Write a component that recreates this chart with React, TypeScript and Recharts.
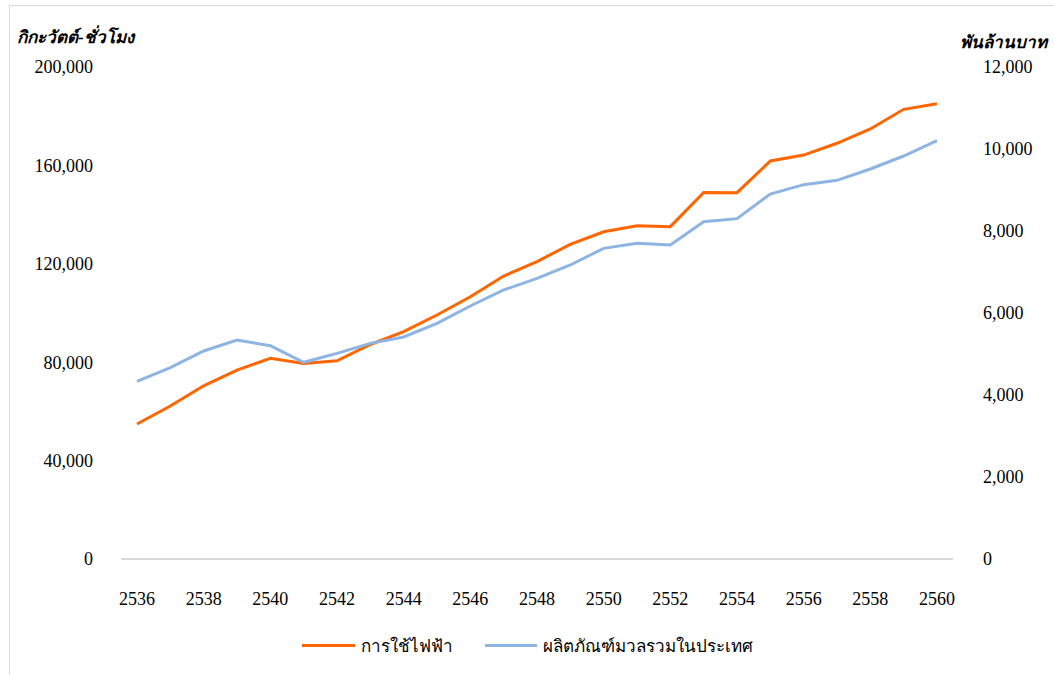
import React from "react";
import { LineChart, Line, XAxis, YAxis, Legend, ReferenceLine } from "recharts";

const years = [2536, 2537, 2538, 2539, 2540, 2541, 2542, 2543, 2544, 2545, 2546, 2547, 2548, 2549, 2550, 2551, 2552, 2553, 2554, 2555, 2556, 2557, 2558, 2559, 2560];
const electricity = [54900, 62200, 70400, 76800, 81600, 79500, 80600, 87200, 92400, 99200, 106600, 115000, 120900, 127900, 133000, 135500, 135100, 149000, 148900, 161800, 164200, 169000, 174800, 182800, 185100];
const gdp = [4330, 4667, 5073, 5341, 5203, 4797, 5016, 5260, 5415, 5748, 6171, 6561, 6846, 7171, 7577, 7700, 7658, 8227, 8301, 8902, 9130, 9236, 9512, 9829, 10203];
const xTicks = [2536, 2538, 2540, 2542, 2544, 2546, 2548, 2550, 2552, 2554, 2556, 2558, 2560];
const leftTicks = [0, 40000, 80000, 120000, 160000, 200000];
const rightTicks = [0, 2000, 4000, 6000, 8000, 10000, 12000];
const seriesNames = ["การใช้ไฟฟ้า", "ผลิตภัณฑ์มวลรวมในประเทศ"];
const leftTitle = "กิกะวัตต์-ชั่วโมง";
const rightTitle = "พันล้านบาท";

const data = years.map((y, i) => ({ year: y, elec: electricity[i], gdp: gdp[i] }));

const FONT = '"Liberation Serif", "Times New Roman", serif';
const ORANGE = "#FF6600";
const BLUE = "#8EB4E3";

const fmt = (v: number) => v.toLocaleString("en-US");

const LegendContent = () => (
  <div style={{ display: "flex", justifyContent: "flex-start", alignItems: "center", fontFamily: FONT, fontSize: 17, color: "#000", height: 30 }}>
    <div style={{ width: 53, height: 3, background: ORANGE, marginLeft: 302, marginRight: 6 }} />
    <span style={{ whiteSpace: "nowrap" }}>{seriesNames[0]}</span>
    <div style={{ width: 52, height: 3, background: BLUE, marginLeft: 32, marginRight: 6 }} />
    <span style={{ whiteSpace: "nowrap" }}>{seriesNames[1]}</span>
  </div>
);

export default function App() {
  return (
    <div style={{ position: "absolute", left: 0, top: 0, width: 1054, height: 675, background: "#fff", fontFamily: FONT }}>
      <div style={{ position: "absolute", left: 9, top: 5, width: 1045, height: 1, background: "#d9d9d9" }} />
      <div style={{ position: "absolute", left: 9, top: 5, width: 1, height: 670, background: "#d9d9d9" }} />
      <div style={{ position: "absolute", left: 17, top: 23, fontSize: 17, fontWeight: "bold", fontStyle: "italic", color: "#000", whiteSpace: "nowrap" }}>{leftTitle}</div>
      <div style={{ position: "absolute", right: 7, top: 28, fontSize: 17, fontWeight: "bold", fontStyle: "italic", color: "#000", whiteSpace: "nowrap" }}>{rightTitle}</div>
      <LineChart width={1054} height={675} data={data} margin={{ top: 67, right: 21, left: 41, bottom: 0 }} style={{ position: "absolute", left: 0, top: 0 }}>
        <XAxis
          dataKey="year"
          type="number"
          domain={[2536, 2560]}
          padding={{ left: 16, right: 16 }}
          ticks={xTicks}
          axisLine={false}
          tickLine={false}
          tickSize={0}
          tickMargin={33}
          height={86}
          tick={{ fill: "#000", fontSize: 18, fontFamily: FONT }}
        />
        <YAxis
          yAxisId="left"
          orientation="left"
          domain={[0, 200000]}
          ticks={leftTicks}
          tickFormatter={fmt}
          axisLine={false}
          tickLine={false}
          tickSize={0}
          tickMargin={28}
          width={80}
          tick={{ fill: "#000", fontSize: 18, fontFamily: FONT }}
        />
        <YAxis
          yAxisId="right"
          orientation="right"
          domain={[0, 12000]}
          ticks={rightTicks}
          tickFormatter={fmt}
          axisLine={false}
          tickLine={false}
          tickSize={0}
          tickMargin={30}
          width={80}
          tick={{ fill: "#000", fontSize: 18, fontFamily: FONT, textAnchor: "start" }}
        />
        <ReferenceLine yAxisId="left" y={0} stroke="#d9d9d9" strokeWidth={2} />
        <Line yAxisId="left" type="linear" dataKey="elec" name={seriesNames[0]} stroke={ORANGE} strokeWidth={3} dot={false} isAnimationActive={false} />
        <Line yAxisId="right" type="linear" dataKey="gdp" name={seriesNames[1]} stroke={BLUE} strokeWidth={3} dot={false} isAnimationActive={false} />
        <Legend content={<LegendContent />} wrapperStyle={{ position: "absolute", left: 0, top: 630, width: 1054, height: 30 }} />
      </LineChart>
    </div>
  );
}
